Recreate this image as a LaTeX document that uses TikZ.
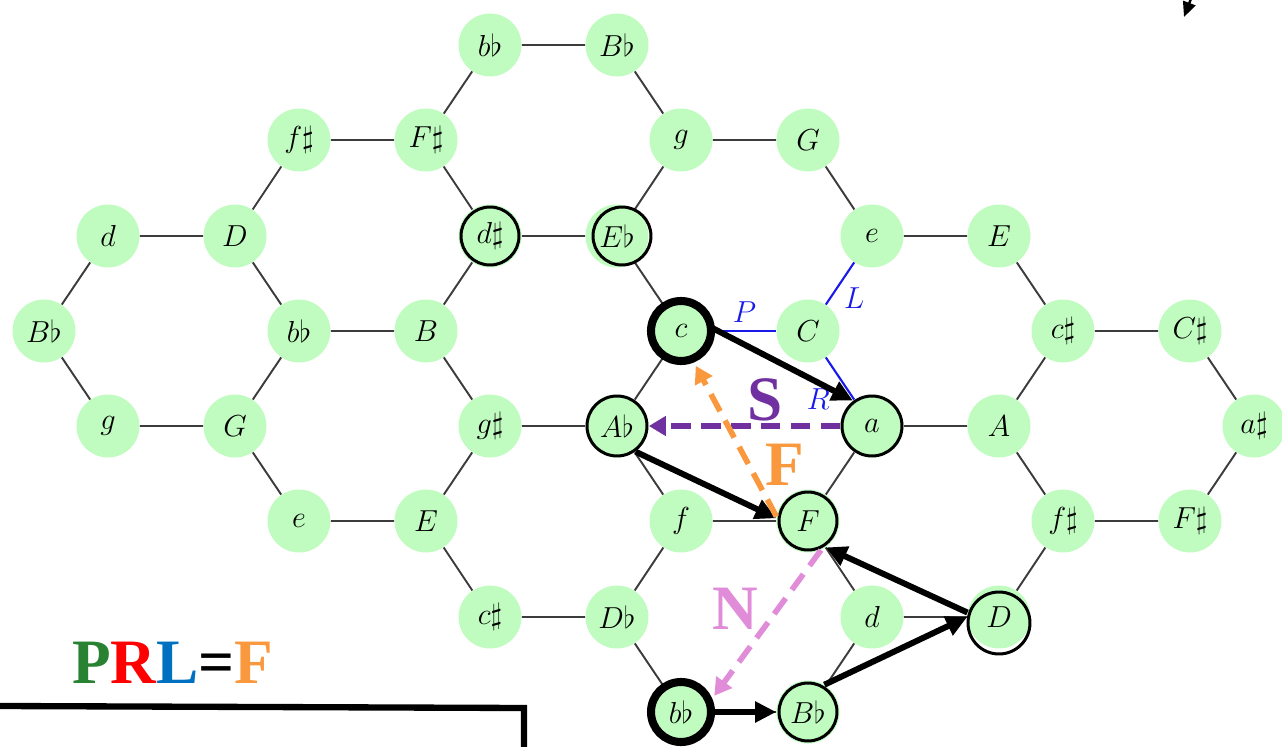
\documentclass[tikz,border=0pt]{standalone}
\usepackage{fontspec}
\usepackage{tikz}
\usetikzlibrary{arrows.meta}
\newfontfamily\oplabelfont{Liberation Serif}

\definecolor{nodegreen}{RGB}{192,252,192}
\definecolor{edgegray}{RGB}{60,60,60}
\definecolor{relblue}{RGB}{25,25,235}
\definecolor{opS}{RGB}{112,48,160}
\definecolor{opF}{RGB}{250,152,62}
\definecolor{opN}{RGB}{224,140,216}
\definecolor{opP}{RGB}{40,130,50}
\definecolor{opR}{RGB}{255,0,0}
\definecolor{opL}{RGB}{0,112,192}

\begin{document}
\begin{tikzpicture}[x=0.02cm, y=-0.02cm,
    chord/.style={circle, fill=nodegreen, minimum size=1.26cm, inner sep=0pt,
                  font=\fontsize{19}{22}\selectfont},
    link/.style={edgegray, line width=1.1pt},
    rel/.style={relblue, line width=1.2pt},
    rellabel/.style={text=relblue, font=\fontsize{17}{20}\selectfont},
    ring/.style={black, line width=1.7pt},
    bigring/.style={black, line width=4.6pt},
    move/.style={-{Triangle[length=0.42cm, width=0.4cm]}, line width=3.4pt, black},
    dmove/.style={-{Triangle[length=0.34cm, width=0.38cm]}, line width=3.2pt,
                  dash pattern=on 11pt off 6pt},
    oplabel/.style={font=\oplabelfont\bfseries\fontsize{36}{40}\selectfont}]
  \useasboundingbox (0,0) rectangle (1282,747);
  % Tonnetz of triads, row by row
  \node[chord] (bb0) at (490,45) {$b\flat$};
  \node[chord] (Bb0) at (617,45) {$B\flat$};
  \node[chord] (fs1) at (299,140) {$f\sharp$};
  \node[chord] (Fs1) at (426,140) {$F\sharp$};
  \node[chord] (g1) at (681,140) {$g$};
  \node[chord] (G1) at (808,140) {$G$};
  \node[chord] (d2) at (108,236) {$d$};
  \node[chord] (D2) at (235,236) {$D$};
  \node[chord] (ds2) at (490,236) {$d\sharp$};
  \node[chord] (Eb2) at (617,236) {$E\flat$};
  \node[chord] (e2) at (872,236) {$e$};
  \node[chord] (E2) at (999,236) {$E$};
  \node[chord] (Bb3) at (44,331) {$B\flat$};
  \node[chord] (bb3) at (299,331) {$b\flat$};
  \node[chord] (B3) at (426,331) {$B$};
  \node[chord] (c3) at (681,331) {$c$};
  \node[chord] (C3) at (808,331) {$C$};
  \node[chord] (cs3) at (1063,331) {$c\sharp$};
  \node[chord] (Cs3) at (1190,331) {$C\sharp$};
  \node[chord] (g4) at (108,426) {$g$};
  \node[chord] (G4) at (235,426) {$G$};
  \node[chord] (gs4) at (490,426) {$g\sharp$};
  \node[chord] (Ab4) at (617,426) {$A\flat$};
  \node[chord] (a4) at (872,426) {$a$};
  \node[chord] (A4) at (999,426) {$A$};
  \node[chord] (as4) at (1254,426) {$a\sharp$};
  \node[chord] (e5) at (299,521) {$e$};
  \node[chord] (E5) at (426,521) {$E$};
  \node[chord] (f5) at (681,521) {$f$};
  \node[chord] (F5) at (808,521) {$F$};
  \node[chord] (fs5) at (1063,521) {$f\sharp$};
  \node[chord] (Fs5) at (1190,521) {$F\sharp$};
  \node[chord] (cs6) at (490,617) {$c\sharp$};
  \node[chord] (Db6) at (617,617) {$D\flat$};
  \node[chord] (d6) at (872,617) {$d$};
  \node[chord] (D6) at (999,617) {$D$};
  \node[chord] (bb7) at (681,712) {$b\flat$};
  \node[chord] (Bb7) at (808,712) {$B\flat$};

  \draw[link] (bb0) -- (Bb0) (bb0) -- (Fs1) (Bb0) -- (g1)
    (fs1) -- (Fs1) (g1) -- (G1) (fs1) -- (D2) (Fs1) -- (ds2) (g1) -- (Eb2) (G1) -- (e2)
    (d2) -- (D2) (ds2) -- (Eb2) (e2) -- (E2)
    (d2) -- (Bb3) (D2) -- (bb3) (ds2) -- (B3) (Eb2) -- (c3) (E2) -- (cs3)
    (bb3) -- (B3) (cs3) -- (Cs3)
    (Bb3) -- (g4) (bb3) -- (G4) (B3) -- (gs4) (c3) -- (Ab4) (cs3) -- (A4) (Cs3) -- (as4)
    (g4) -- (G4) (gs4) -- (Ab4) (a4) -- (A4)
    (G4) -- (e5) (gs4) -- (E5) (Ab4) -- (f5) (a4) -- (F5) (A4) -- (fs5) (as4) -- (Fs5)
    (e5) -- (E5) (f5) -- (F5) (fs5) -- (Fs5)
    (E5) -- (cs6) (f5) -- (Db6) (F5) -- (d6) (fs5) -- (D6)
    (cs6) -- (Db6) (d6) -- (D6)
    (Db6) -- (bb7) (d6) -- (Bb7) (bb7) -- (Bb7);

  % P, L, R around C
  \draw[rel] (c3) -- node[rellabel, above=1pt] {$P$} (C3);
  \draw[rel] (C3) -- node[rellabel, pos=0.15, right=4pt] {$L$} (e2);
  \draw[rel] (C3) -- node[rellabel, pos=1, left=10pt] {$R$} (a4);

  % chords on the path
  \draw[ring] (ds2) circle[radius=0.58cm];
  \draw[ring] ([xshift=0.1cm]Eb2.center) circle[radius=0.58cm];
  \draw[ring] (Ab4) circle[radius=0.6cm];
  \draw[ring] (a4) circle[radius=0.6cm];
  \draw[ring] (F5) circle[radius=0.58cm];
  \draw[ring] ([yshift=-0.12cm]D6.center) circle[radius=0.62cm];
  \draw[ring] (Bb7) circle[radius=0.58cm];
  \draw[bigring] (c3) circle[radius=0.6cm];
  \draw[bigring] (bb7) circle[radius=0.6cm];

  \draw[move] (c3.5) -- (a4.127);
  \draw[move] (Ab4.-54) -- (F5.175);
  \draw[move] (bb7.east) -- (Bb7.west);
  \draw[move] (Bb7.59) -- (D6.180);
  \draw[move] (D6.172) -- (F5.-56);
  \draw[dmove, opS] (a4.west) -- (Ab4.east);
  \draw[dmove, opF, shorten >=0.12cm] (F5.172) -- (c3.-68);
  \draw[dmove, opN, shorten >=0.12cm] (F5.-66) -- (bb7.21);

  \node[oplabel, text=opS] (lblS) at (765,400) {S};
  \node[oplabel, text=opF] (lblF) at (785,465) {F};
  \node[oplabel, text=opN] (lblN) at (735,609) {N};
  \node[oplabel, anchor=base west, inner sep=0pt] (prl) at (72,683)
    {\textcolor{opP}{P}\textcolor{opR}{R}\textcolor{opL}{L}=\textcolor{opF}{F}};

  % cut-off pieces at the edges
  \draw[line width=3.6pt] (0,706) -- (524,708) -- (524,752);
  \coordinate (tailcut) at (1200,-25);
  \coordinate (headcut) at (1184,17);
  \draw[-{Triangle[length=0.3cm, width=0.26cm]}, line width=1.4pt] (tailcut) -- (headcut);
\end{tikzpicture}
\end{document}
